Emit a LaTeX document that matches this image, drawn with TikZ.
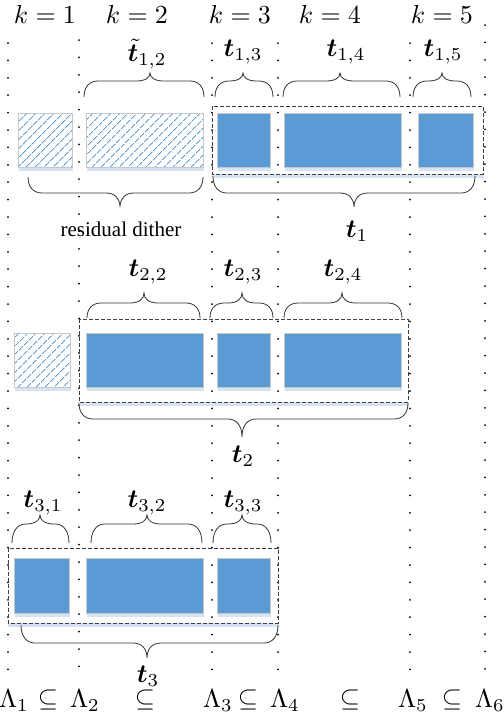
\documentclass[tikz,border=0pt]{standalone}
\usepackage{fontspec}
\usepackage{bm}
\usetikzlibrary{calc,patterns.meta,positioning}
\newfontfamily\lblfont{Liberation Serif}
\definecolor{boxBlue}{HTML}{5B9BD5}
\definecolor{shadowBlue}{HTML}{D5E3F3}
\definecolor{edgeGray}{HTML}{C8C8C8}
\definecolor{dashGray}{HTML}{404040}
\begin{document}
\begin{tikzpicture}[x=1pt,y=-1pt,
    mathLbl/.style={scale=2.6,inner sep=0pt},
    textLbl/.style={font=\lblfont\fontsize{21}{25}\selectfont,inner sep=0pt},
    solidBox/.style={draw=edgeGray,line width=0.8pt,fill=boxBlue},
    hatchBox/.style={draw=edgeGray,line width=0.8pt,fill=white,
        pattern={Lines[angle=45,distance=6.5pt,line width=0.9pt]},pattern color=boxBlue},
    groupBox/.style={draw=dashGray,line width=0.7pt,dash pattern=on 4pt off 2pt},
    braceLine/.style={draw=black!80,line width=0.8pt}]

\useasboundingbox (0,0) rectangle (504,716);

\newcommand{\drawDotColumn}[3]{
    \foreach \n in {0,1,...,#3}
    {
        \fill ({#1},{#2+17.4*\n}) circle (1);
    }
}

\newcommand{\drawBox}[5]{
    \fill[shadowBlue] (#2+1,#3+3) rectangle (#4+1,#5+4);
    \fill[white] (#2,#3) rectangle (#4,#5);
    \draw[#1] (#2,#3) rectangle (#4,#5);
}

\newcommand{\drawGroup}[4]{
    \fill[shadowBlue] (#1,#4) rectangle (#3+1,#4+4);
    \draw[groupBox] (#1,#2) rectangle (#3,#4);
}

\newcommand{\drawBrace}[6]{
    \draw[braceLine] (#1,#4) .. controls (#1,{#4+0.6*(#5-#4)}) and (#1+5,#5) .. (#1+14,#5)
        -- (#3-14,#5) .. controls (#3-5,#5) and (#3,{#5+0.4*(#6-#5)}) .. (#3,#6)
        .. controls (#3,{#5+0.4*(#6-#5)}) and (#3+5,#5) .. (#3+14,#5)
        -- (#2-14,#5) .. controls (#2-5,#5) and (#2,{#4+0.6*(#5-#4)}) .. (#2,#4);
}

% dotted columns
\drawDotColumn{8}{43}{36}
\drawDotColumn{79}{40}{36}
\drawDotColumn{212}{43}{36}
\drawDotColumn{278}{43}{36}
\drawDotColumn{410}{43}{36}
\drawDotColumn{485}{25}{37}

% k labels
\node[mathLbl] (k1) at (45,14) {$k=1$};
\node[mathLbl] (k2) at (137,14) {$k=2$};
\node[mathLbl] (k3) at (240,14) {$k=3$};
\node[mathLbl] (k4) at (330,14) {$k=4$};
\node[mathLbl] (k5) at (442,14) {$k=5$};

% row 1
\drawBox{hatchBox}{18}{113}{72}{167}
\drawBox{hatchBox}{86}{113}{203}{167}
\foreach \a/\b in {217/270,284/401,418/473}
{
    \drawBox{solidBox}{\a}{113}{\b}{167}
}
\drawGroup{212}{106}{483}{174}
\drawBrace{84}{204}{150}{97}{81}{73}
\drawBrace{215}{273}{243}{97}{81}{73}
\drawBrace{283}{400}{340}{97}{81}{73}
\drawBrace{413}{471}{442}{97}{81}{73}
\drawBrace{28}{203}{120}{177}{193}{207}
\drawBrace{213}{475}{354}{176}{193}{207}
\node[mathLbl] (t12) at (147,54) {$\tilde{\bm t}_{1,2}$};
\node[mathLbl] (t13) at (243,52) {$\bm t_{1,3}$};
\node[mathLbl] (t14) at (346,52) {$\bm t_{1,4}$};
\node[mathLbl] (t15) at (443,52) {$\bm t_{1,5}$};
\node[textLbl] (resDither) at (121,229) {residual dither};
\node[mathLbl] (t1) at (357,231) {$\bm t_1$};

% row 2
\drawBox{hatchBox}{14}{333}{70}{387}
\foreach \a/\b in {86/203,217/270,284/401}
{
    \drawBox{solidBox}{\a}{333}{\b}{387}
}
\drawGroup{79}{319}{408}{402}
\drawBrace{87}{200}{144}{318}{303}{293}
\drawBrace{210}{273}{242}{318}{303}{293}
\drawBrace{284}{402}{342}{318}{303}{293}
\drawBrace{79}{408}{242}{403}{419}{437}
\node[mathLbl] (t22) at (148,272) {$\bm t_{2,2}$};
\node[mathLbl] (t23) at (243,272) {$\bm t_{2,3}$};
\node[mathLbl] (t24) at (343,272) {$\bm t_{2,4}$};
\node[mathLbl] (t2) at (243,456) {$\bm t_2$};

% row 3
\foreach \a/\b in {14/69,86/203,217/270}
{
    \drawBox{solidBox}{\a}{558}{\b}{613}
}
\drawGroup{8}{548}{278}{623}
\drawBrace{12}{69}{40}{543}{524}{515}
\drawBrace{91}{202}{147}{543}{524}{515}
\drawBrace{213}{271}{242}{543}{524}{515}
\drawBrace{21}{278}{147}{625}{643}{658}
\node[mathLbl] (t31) at (43,503) {$\bm t_{3,1}$};
\node[mathLbl] (t32) at (147,503) {$\bm t_{3,2}$};
\node[mathLbl] (t33) at (243,503) {$\bm t_{3,3}$};
\node[mathLbl] (t3) at (148,676) {$\bm t_3$};

% nested sets
\node[mathLbl] (lam1) at (14,701) {$\Lambda_1$};
\node[mathLbl] (sub1) at (48,700) {$\subseteq$};
\node[mathLbl] (lam2) at (85,701) {$\Lambda_2$};
\node[mathLbl] (sub2) at (145,700) {$\subseteq$};
\node[mathLbl] (lam3) at (218,701) {$\Lambda_3$};
\node[mathLbl] (sub3) at (248,700) {$\subseteq$};
\node[mathLbl] (lam4) at (285,701) {$\Lambda_4$};
\node[mathLbl] (sub4) at (350,700) {$\subseteq$};
\node[mathLbl] (lam5) at (413,701) {$\Lambda_5$};
\node[mathLbl] (sub5) at (452,700) {$\subseteq$};
\node[mathLbl] (lam6) at (490,701) {$\Lambda_6$};
\end{tikzpicture}
\end{document}
